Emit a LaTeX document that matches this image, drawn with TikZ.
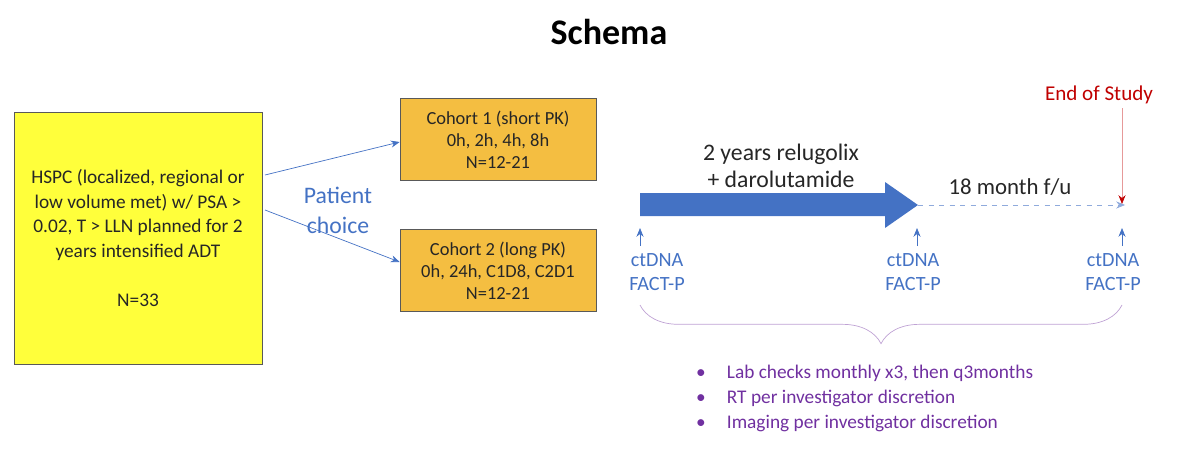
\documentclass[tikz,border=0pt]{standalone}
\usepackage{fontspec}
\setmainfont{Carlito}
\usetikzlibrary{arrows.meta,decorations.pathreplacing}
\definecolor{bl}{HTML}{4472C4}
\definecolor{pu}{HTML}{7030A0}
\definecolor{orng}{HTML}{F4BE41}
\definecolor{yel}{HTML}{FFFF3B}
\definecolor{dred}{HTML}{C00000}
\begin{document}
\begin{tikzpicture}[x=0.02cm,y=-0.02cm,
  cohort/.style={draw=gray!70!black,fill=orng,minimum width=196*0.02cm,minimum height=82*0.02cm,align=center,font=\fontsize{10.5}{12.5}\selectfont,text=black!85},
  lbl/.style={text=bl,align=center,font=\fontsize{11}{13.5}\selectfont},
  thin/.style={bl,-{Stealth[length=5pt,width=4pt]}},
  bul/.style={text=pu,anchor=west,font=\fontsize{11}{12}\selectfont}]
\useasboundingbox (0,0) rectangle (1200,453);
\node[font=\fontsize{20.5}{24}\selectfont\bfseries] (title) at (609,32) {Schema};
\node[draw=gray!70!black,fill=yel,minimum width=248*0.02cm,minimum height=252*0.02cm,align=center,text=black!85,font=\fontsize{11}{14}\selectfont] (hspc) at (138,238)
 {HSPC (localized, regional or\\ low volume met) w/ PSA >\\ 0.02, T > LLN planned for 2\\ years intensified ADT\\[14pt] N=33};
\node[cohort] (c1) at (498,139.5) {Cohort 1 (short PK)\\0h, 2h, 4h, 8h\\N=12-21};
\node[cohort] (c2) at (498,270.5) {Cohort 2 (long PK)\\0h, 24h, C1D8, C2D1\\N=12-21};
\coordinate (s1) at (265,175); \coordinate (s2) at (265,210);
\draw[thin] (s1) -- (c1.west|-0,142) coordinate (e1);
\draw[thin] (s2) -- (c2.west|-0,262);
\node[lbl,font=\fontsize{13.5}{17}\selectfont] (pc) at (338,210) {Patient\\choice};
\fill[bl] (640,193) coordinate (a0) -- (885,193) -- (885,182) -- (918,205) coordinate (ah) -- (885,228) -- (885,216) -- (640,216) -- cycle;
\node[font=\fontsize{13.5}{15.5}\selectfont,align=center,text=black!85] (txt) at (781,166) {2 years relugolix\\ + darolutamide};
\node[font=\fontsize{13}{15}\selectfont,text=black!85] (fu) at (1010,187) {18 month f/u};
\coordinate (eos) at (1125,205);
\draw[bl!60,dashed,-{Stealth[length=5pt,width=4pt]}] (ah) -- (eos);
\node[text=dred,font=\fontsize{12}{14}\selectfont] (end) at (1099,95) {End of Study};
\draw[dred!40,-{Stealth[length=5pt,width=4pt,color=dred]}] (1122,108) -- (1122,204);
\foreach \x/\y/\n in {640/657/a,917/913/b,1122/1113/c}{
  \draw[thin] (\x,246) -- (\x,228);
  \node[lbl,font=\fontsize{11.5}{14}\selectfont] (ct\n) at (\y,272) {ctDNA\\FACT-P};
}
\draw[draw=pu!45,decorate,decoration={brace,mirror,amplitude=22pt}] (640,305) -- (1122,305);
\node[bul] (b1) at (690,373) {\textbullet\hspace{12pt}Lab checks monthly x3, then q3months};
\node[bul] (b2) at (690,398) {\textbullet\hspace{12pt}RT per investigator discretion};
\node[bul] (b3) at (690,423) {\textbullet\hspace{12pt}Imaging per investigator discretion};
\end{tikzpicture}
\end{document}
